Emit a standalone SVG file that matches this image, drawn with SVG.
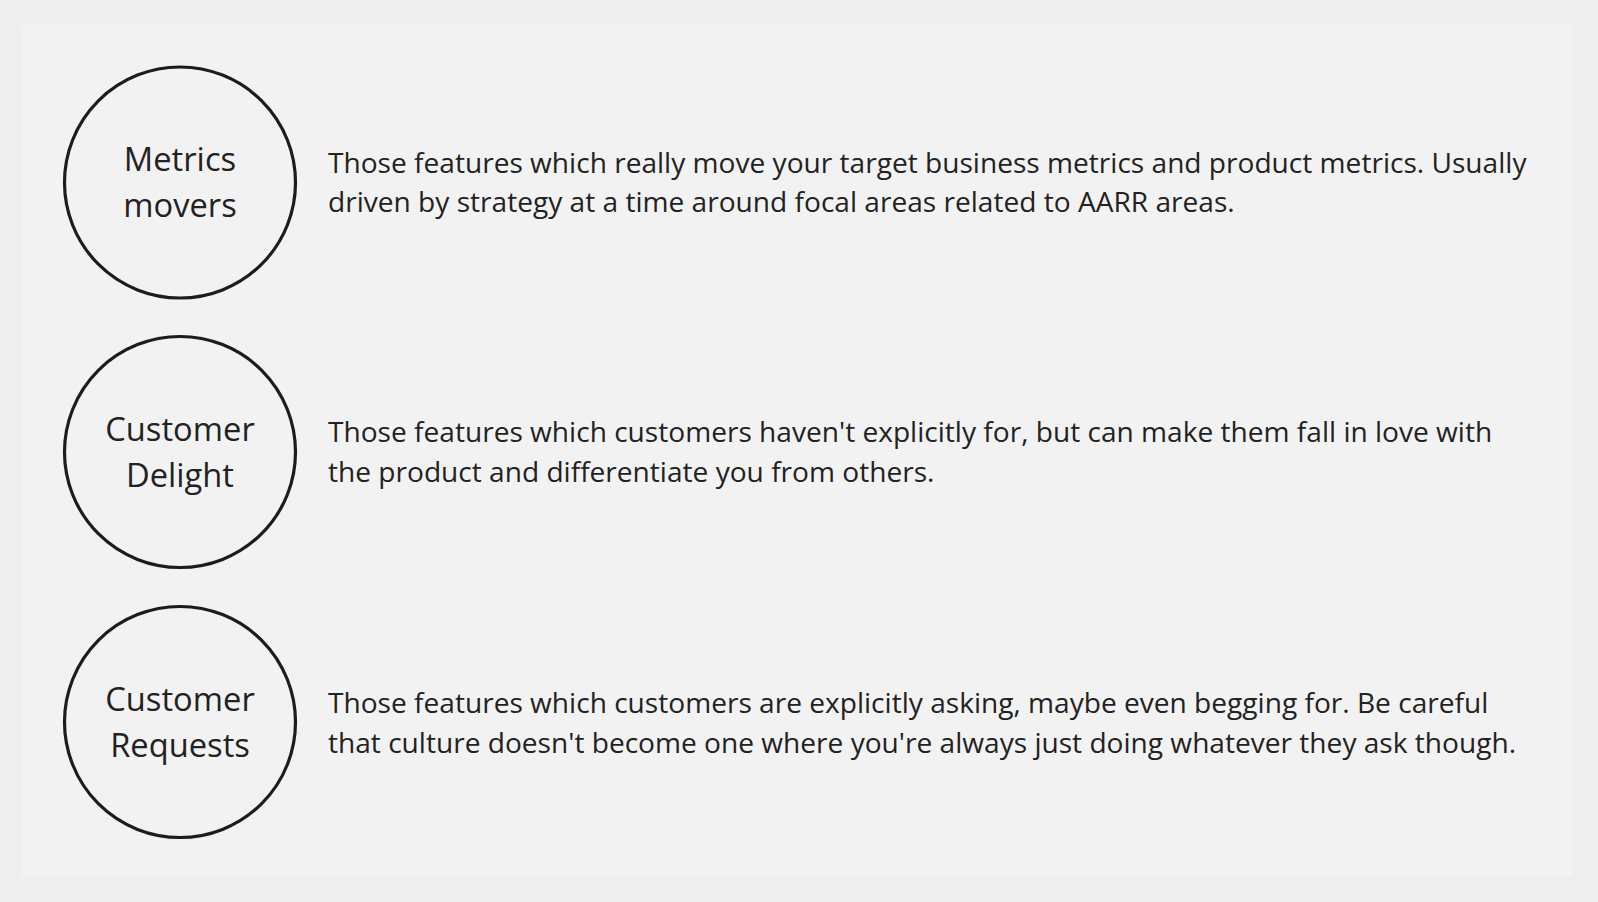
<svg xmlns="http://www.w3.org/2000/svg" width="1598" height="902" viewBox="0 0 1598 902">
<style>
.c{fill:#f2f2f2;stroke:#1c1c1c;stroke-width:3.2}
.t{font-family:"Open Sans","Noto Sans",sans-serif;font-size:32.7px;fill:#222;text-anchor:middle}
.d{font-family:"Open Sans","Noto Sans",sans-serif;font-size:28.1px;fill:#222}
</style>
<rect width="1598" height="902" fill="#eeeeee"/>
<rect x="21" y="25" width="1551" height="852" fill="#f2f2f2"/>
<g id="connectors"/>
<g id="metrics-movers">
<circle class="c" cx="180" cy="182.5" r="115.5"/>
<text class="t" x="180" y="171">Metrics</text>
<text class="t" x="180" y="217">movers</text>
<text class="d" x="328" y="173">Those features which really move your target business metrics and product metrics. Usually</text>
<text class="d" x="328" y="212">driven by strategy at a time around focal areas related to AARR areas.</text>
</g>
<g id="customer-delight">
<circle class="c" cx="180" cy="452" r="115.5"/>
<text class="t" x="180" y="441">Customer</text>
<text class="t" x="180" y="487">Delight</text>
<text class="d" x="328" y="442">Those features which customers haven't explicitly for, but can make them fall in love with</text>
<text class="d" x="328" y="482">the product and differentiate you from others.</text>
</g>
<g id="customer-requests">
<circle class="c" cx="180" cy="722" r="115.5"/>
<text class="t" x="180" y="711">Customer</text>
<text class="t" x="180" y="757">Requests</text>
<text class="d" x="328" y="713">Those features which customers are explicitly asking, maybe even begging for. Be careful</text>
<text class="d" x="328" y="753">that culture doesn't become one where you're always just doing whatever they ask though.</text>
</g>
</svg>
